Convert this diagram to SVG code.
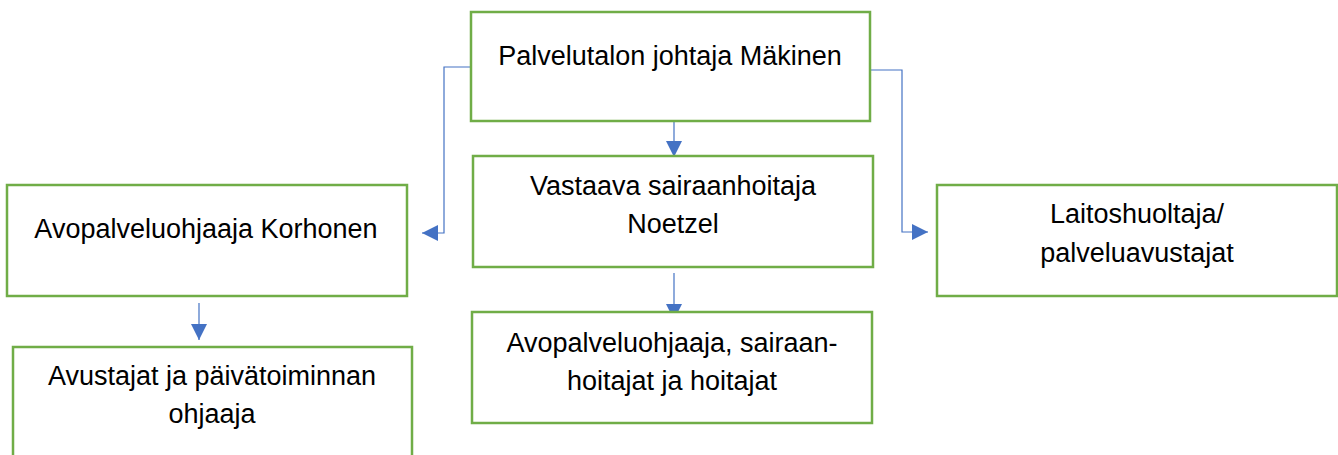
<svg xmlns="http://www.w3.org/2000/svg" width="1338" height="455" viewBox="0 0 1338 455">
<style>
.box{fill:#fff;stroke:#70AD47;stroke-width:2.5}
.t{font-family:"Liberation Sans",Arial,sans-serif;font-size:27px;fill:#000;text-anchor:middle}
.c{fill:none;stroke:#4472C4;stroke-width:1.2}
</style>
<defs>
<marker id="ah" markerUnits="userSpaceOnUse" markerWidth="16" markerHeight="16" viewBox="0 0 16 16" refX="16" refY="8" orient="auto">
<path d="M0,0 L16,8 L0,16 Z" fill="#4472C4"/>
</marker>
</defs>
<g id="connectors">
<path class="c" d="M674,122 V157" marker-end="url(#ah)"/>
<path class="c" d="M470,67 H444 V233 H422" marker-end="url(#ah)"/>
<path class="c" d="M871,70 H902 V232 H928" marker-end="url(#ah)"/>
<path class="c" d="M674,273 V320" marker-end="url(#ah)"/>
<path class="c" d="M199,303 V340" marker-end="url(#ah)"/>
</g>
<g id="n1"><rect class="box" x="471" y="12" width="399" height="109"/><text class="t" x="670" y="65">Palvelutalon johtaja Mäkinen</text></g>
<g id="n2"><rect class="box" x="473" y="156" width="400" height="111"/><text class="t" x="673" y="195">Vastaava sairaanhoitaja</text><text class="t" x="673" y="233">Noetzel</text></g>
<g id="n3"><rect class="box" x="7" y="185" width="400" height="111"/><text class="t" x="206" y="238">Avopalveluohjaaja Korhonen</text></g>
<g id="n4"><rect class="box" x="937" y="185" width="400" height="111"/><text class="t" x="1137" y="223">Laitoshuoltaja/</text><text class="t" x="1137" y="262">palveluavustajat</text></g>
<g id="n5"><rect class="box" x="472" y="312" width="400" height="111"/><text class="t" x="672" y="352">Avopalveluohjaaja, sairaan-</text><text class="t" x="672" y="390">hoitajat ja hoitajat</text></g>
<g id="n6"><rect class="box" x="13" y="347" width="399" height="120"/><text class="t" x="212" y="385">Avustajat ja päivätoiminnan</text><text class="t" x="212" y="423">ohjaaja</text></g>
</svg>
